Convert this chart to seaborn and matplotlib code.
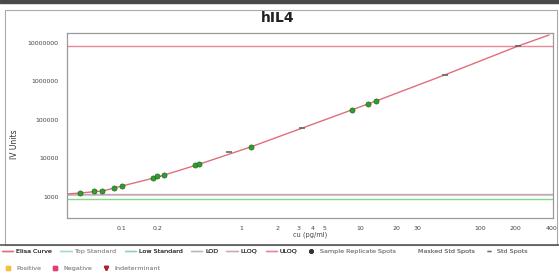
import matplotlib
matplotlib.use("Agg")
import matplotlib.pyplot as plt
from matplotlib.lines import Line2D
from matplotlib.patches import Rectangle
import numpy as np
import pandas as pd
import seaborn as sns

### Data ###
curve_conc = [0.035, 0.045, 0.07, 0.1, 0.2, 0.45, 1.2, 3.25, 13.5, 51, 210, 380]
curve_iv = [1200, 1270, 1450, 1930, 3300, 7190, 19900, 61500, 310000, 1480000, 8300000, 16000000]

sample_conc = [0.0447, 0.0586, 0.0684, 0.0862, 0.1007, 0.183, 0.198, 0.226, 0.411, 0.445,
               1.21, 8.5, 11.6, 13.5]
sample_iv = [1270, 1430, 1430, 1710, 1930, 3120, 3510, 3730, 6780, 7190,
             19900, 182000, 260000, 310000]

std_conc = [0.79, 3.25, 51, 210]
std_iv = [14800, 61500, 1480000, 8300000]

uloq = 8400000
lloq = 1200
lod = 1130
low_standard = 890

x_ticks = [0.1, 0.2, 1, 2, 3, 4, 5, 10, 20, 30, 100, 200, 400]
x_labels = ['0.1', '0.2', '1', '2', '3', '4', '5', '10', '20', '30', '100', '200', '400']
y_ticks = [1000, 10000, 100000, 1000000, 10000000]
y_labels = ['1000', '10000', '100000', '1000000', '10000000']

curve = pd.DataFrame({'conc': curve_conc, 'iv': curve_iv})
samples = pd.DataFrame({'conc': sample_conc, 'iv': sample_iv})
stds = pd.DataFrame({'conc': std_conc, 'iv': std_iv})

### Plot ###
sns.set_style("white")
plt.rcParams['font.family'] = ['DejaVu Sans']

W, H = 559, 277
fig = plt.figure(figsize=(W / 100, H / 100), dpi=100)
ax = fig.add_axes([67 / W, 1 - 218 / H, (553 - 67) / W, (218 - 33) / H])

# reference lines
ax.axhline(uloq, color='#e8899a', lw=1.0, zorder=1)
ax.axhline(lloq, color='#c9a6bd', lw=1.0, zorder=1)
ax.axhline(lod, color='#c8c8c8', lw=0.8, zorder=1)
ax.axhline(low_standard, color='#86d886', lw=1.0, zorder=1)

sns.lineplot(data=curve, x='conc', y='iv', ax=ax, color='#e06f7a', lw=1.0,
             estimator=None, sort=True, zorder=2)
sns.scatterplot(data=samples, x='conc', y='iv', ax=ax, color='#2e9e2e',
                edgecolor='#1a5a1a', linewidth=0.4, s=14, zorder=3)
sns.scatterplot(data=stds, x='conc', y='iv', ax=ax, color='#666666', marker='_',
                s=14, linewidth=1.2, zorder=3)

ax.set_xscale('log')
ax.set_yscale('log')
ax.set_xlim(0.0346, 410)
ax.set_ylim(285, 1.8e7)
ax.set_xticks(x_ticks, x_labels)
ax.set_yticks(y_ticks, y_labels)
ax.minorticks_off()
ax.tick_params(axis='both', labelsize=4.5, length=0, pad=6, colors='#444444')
ax.set_xlabel('cu (pg/ml)', fontsize=4.8, color='#444444', labelpad=0)
ax.set_ylabel('IV Units', fontsize=5.5, color='#333333')
ax.yaxis.set_label_coords(-0.098, 0.40)
for sp in ax.spines.values():
    sp.set_color('#9a9a9a')
    sp.set_linewidth(0.9)

fig.text(278 / W, 1 - 18 / H, 'hIL4', fontsize=10, fontweight='bold',
         ha='center', va='center', color='#222222')

# outer frame and separator
fig.patches.append(Rectangle((5 / W, 1 - 245 / H), 552 / W, 235 / H,
                             transform=fig.transFigure, fill=False,
                             edgecolor='#aaaaaa', lw=0.8))
fig.add_artist(Line2D([0, 1], [1 - 245 / H, 1 - 245 / H], transform=fig.transFigure,
                      color='#555555', lw=1.2))
fig.patches.append(Rectangle((0, 1 - 3 / H), 1, 3 / H, transform=fig.transFigure,
                             color='#4a4a4a'))

# legend rows
row1 = [
    (Line2D([], [], color='#e06f7a', lw=1.0), 'Elisa Curve', '#333333'),
    (Line2D([], [], color='#a8d8d8', lw=1.0), 'Top Standard', '#999999'),
    (Line2D([], [], color='#8fd0c0', lw=1.0), 'Low Standard', '#333333'),
    (Line2D([], [], color='#b0c0b0', lw=1.0), 'LOD', '#333333'),
    (Line2D([], [], color='#d0a8c0', lw=1.0), 'LLOQ', '#333333'),
    (Line2D([], [], color='#e8899a', lw=1.0), 'ULOQ', '#333333'),
    (Line2D([], [], color='#333333', marker='o', ls='', ms=2.5), 'Sample Replicate Spots', '#888888'),
    (Line2D([], [], color='none', lw=0), 'Masked Std Spots', '#777777'),
    (Line2D([], [], color='#777777', marker='_', ls='', ms=3), 'Std Spots', '#777777'),
]
row2 = [
    (Line2D([], [], color='#f5c040', marker='s', ls='', ms=3), 'Positive', '#999999'),
    (Line2D([], [], color='#e0407a', marker='s', ls='', ms=3), 'Negative', '#999999'),
    (Line2D([], [], color='#b02030', marker='v', ls='', ms=3), 'Indeterminant', '#999999'),
]

for rows, y in [(row1, 251), (row2, 268)]:
    leg = fig.legend([r[0] for r in rows], [r[1] for r in rows], loc='center left',
                     bbox_to_anchor=(2 / W, 1 - y / H), ncol=len(rows), frameon=False,
                     fontsize=4.6, handlelength=1.8, handletextpad=0.4,
                     columnspacing=1.3, borderaxespad=0, borderpad=0)
    for txt, r in zip(leg.get_texts(), rows):
        txt.set_color(r[2])
    fig.add_artist(leg)

fig.savefig('out.png', dpi=100)
